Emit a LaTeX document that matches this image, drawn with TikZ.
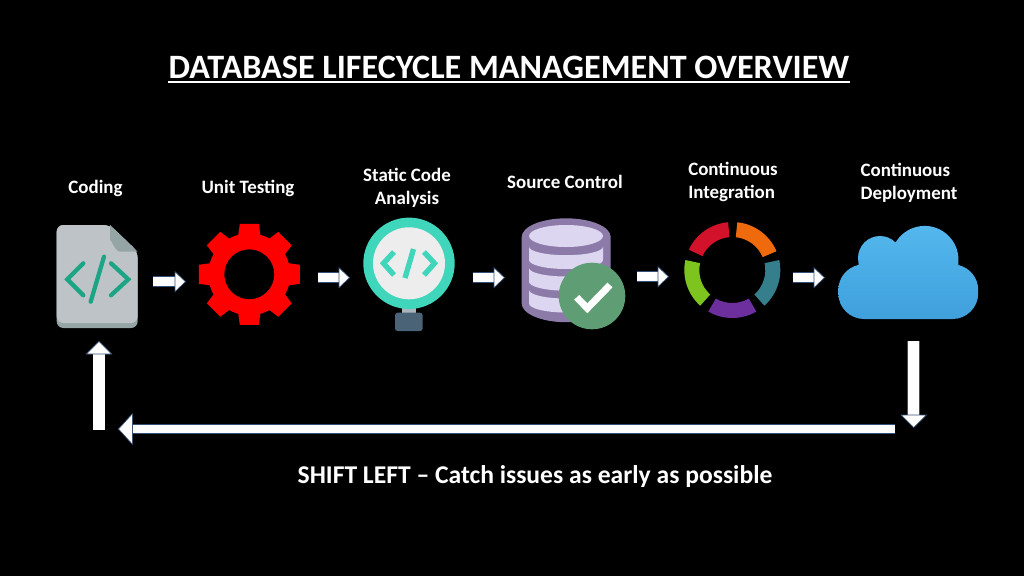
\documentclass[tikz,border=0pt]{standalone}
\usepackage{fontspec}
\setmainfont{Carlito}
\usetikzlibrary{arrows.meta,positioning,calc}
\definecolor{arrowedge}{HTML}{34507A}
\definecolor{docbody}{HTML}{BDC3C7}
\definecolor{docdark}{HTML}{95A5A6}
\definecolor{docgreen}{HTML}{1BA585}
\definecolor{lensteal}{HTML}{3FD6BC}
\definecolor{lensface}{HTML}{EDEDED}
\definecolor{lensneck}{HTML}{A9B4BC}
\definecolor{lensgrip}{HTML}{4A6376}
\definecolor{dbedge}{HTML}{8C7BA8}
\definecolor{dbface}{HTML}{DDD6F0}
\definecolor{dbcheck}{HTML}{5F9E74}
\definecolor{ringred}{HTML}{D2112B}
\definecolor{ringorange}{HTML}{EE6A0C}
\definecolor{ringteal}{HTML}{357F8C}
\definecolor{ringpurple}{HTML}{6D2E9E}
\definecolor{ringgreen}{HTML}{7DC41E}
\definecolor{cloudtop}{HTML}{55B8EE}
\definecolor{cloudbot}{HTML}{3FA0DC}
\tikzstyle{steplabel}=[text=white,font=\fontsize{14.2}{17.2}\selectfont\bfseries,inner sep=0pt]
\tikzstyle{smallflow}=[draw=arrowedge,line width=.5pt,double=white,double distance=7pt,
  -{Triangle[length=8.5pt,width=16pt,fill=white,line width=.5pt]}]
\tikzstyle{longflow}=[draw=arrowedge,line width=.5pt,double=white,double distance=8.5pt,
  -{Triangle[length=10pt,width=20pt,fill=white,line width=.5pt]}]
\tikzstyle{backflow}=[draw=arrowedge,line width=.5pt,double=white,double distance=6.5pt,
  -{Triangle[length=11pt,width=24pt,fill=white,line width=.5pt]}]
\tikzstyle{codeline}=[line width=3.2pt,line cap=round,line join=miter]
\tikzstyle{lensline}=[line width=4pt,line join=miter,lensteal]
\begin{document}
\begin{tikzpicture}[x=.75pt,y=-.75pt]
    \useasboundingbox (0,0) rectangle (1024,576);
    \fill[black] (0,0) rectangle (1024,576);
    % heading and step names
    \node [text=white,font=\fontsize{25.6}{30}\selectfont\bfseries,inner sep=0pt] (title) at (509,67)
      {DATABASE LIFECYCLE MANAGEMENT OVERVIEW};
    \draw[white,line width=1.5pt] ([yshift=-2.5pt]title.south west) -- ([yshift=-2.5pt]title.south east);
    \node [steplabel] (coding) at (95.5,188) {Coding};
    \node [steplabel] (unittest) at (248,188) {Unit Testing};
    \node [steplabel,align=center] (static) at (407,188) {Static Code\\Analysis};
    \node [steplabel] (source) at (565,182) {Source Control};
    \node [steplabel,align=left] (integration) at (733,182) {Continuous\\Integration};
    \node [steplabel,align=left] (deployment) at (909,183) {Continuous\\Deployment};
    \node [text=white,font=\fontsize{19.2}{22}\selectfont\bfseries,inner sep=0pt] (shift) at (535,477)
      {SHIFT LEFT – Catch issues as early as possible};
    % file icon
    \fill[docdark,rounded corners=5] (56.7,225) -- (110,225) -- (137.7,251.7) -- (137.7,328) -- (56.7,328) -- cycle;
    \fill[docbody,rounded corners=5] (56.7,225) -- (110,225) -- (137.7,251.7) -- (137.7,323) -- (56.7,323) -- cycle;
    \fill[docdark] (110,225) -- (137.7,251.7) -- (120,251.7) to[out=180,in=90] (110,241) -- cycle;
    \draw[codeline,docgreen] (83.3,263.3) -- (67.3,279.3) -- (83.3,295.3);
    \draw[codeline,docgreen] (104,256.7) -- (90.7,301.7);
    \draw[codeline,docgreen] (111,263.3) -- (128.3,279.3) -- (111,295.3);
    % gear icon
    \begin{scope}[shift={(249.3,274.3)}]
      \foreach \t in {0,45,...,315}
        \fill[red,rotate=\t] (-11.5,-36) -- (-9.5,-50.5) -- (9.5,-50.5) -- (11.5,-36) -- cycle;
      \fill[red,even odd rule] (0,0) circle (41) (0,0) circle (25);
    \end{scope}
    % lens icon
    \fill[lensneck] (402,305) rectangle (416,314);
    \fill[lensgrip,rounded corners=2] (395,312.7) rectangle (422.7,331);
    \fill[lensteal] (409,263.3) circle (45.7);
    \fill[lensface] (409,263.3) circle (36);
    \draw[lensline] (394,252) -- (383.5,263.3) -- (394,275);
    \draw[lensline] (413.5,249) -- (405,278);
    \draw[lensline] (424,252) -- (434.5,263.3) -- (424,275);
    % database icon
    \fill[dbedge] (521.7,237) arc[start angle=180,end angle=360,x radius=44.5,y radius=18.7]
      -- (610.7,303.5) arc[start angle=0,end angle=180,x radius=44.5,y radius=18.7] -- cycle;
    \fill[dbface] (566,236) ellipse [x radius=37,y radius=11];
    \foreach \top/\bot in {246.7/260,268/281.7,290/303.5}
      \fill[dbface] (529,\top) arc[start angle=180,end angle=0,x radius=37,y radius=8.5]
        -- (603,\bot) arc[start angle=0,end angle=180,x radius=37,y radius=9] -- cycle;
    \fill[dbcheck] (592,296) circle (33.3);
    \draw[white,line width=5.2pt] (576.7,297.3) -- (587.3,308.3) -- (610,285);
    % ring icon
    \begin{scope}[shift={(732.3,270)}]
      \foreach \c/\a/\b in {ringred/95/155,ringorange/84/23,ringteal/12/-48,ringpurple/-60/-120,ringgreen/228/168}
        \fill[\c] (-\a:48) arc[start angle=-\a,end angle=-\b,radius=48]
          -- (-\b:33) arc[start angle=-\b,end angle=-\a,radius=33] -- cycle;
    \end{scope}
    % cloud icon
    \shade[top color=cloudtop,bottom color=cloudbot] (864,319) arc[start angle=90,end angle=180,radius=25.7]
      -- (838.3,290) arc[start angle=180,end angle=258,radius=25.7]
      -- (858,258) arc[start angle=180,end angle=315,radius=22]
      -- (895.7,242.3) arc[start angle=211,end angle=363,radius=33.8]
      -- (958.3,265) arc[start angle=283,end angle=360,radius=25.7]
      -- (978.2,293.3) arc[start angle=0,end angle=90,radius=25.7] -- cycle;
    % arrow ends
    \coordinate (a1) at (153,281.7);   \coordinate (b1) at (186,281.7);
    \coordinate (a2) at (318,277.7);   \coordinate (b2) at (350,277.7);
    \coordinate (a3) at (472.7,277.7); \coordinate (b3) at (505,277.7);
    \coordinate (a4) at (637,276.7);   \coordinate (b4) at (669,276.7);
    \coordinate (a5) at (793,277.7);   \coordinate (b5) at (825,277.7);
    \coordinate (downtop) at (913.7,341);  \coordinate (downend) at (913.7,428);
    \coordinate (backstart) at (895,429);  \coordinate (backend) at (118,429);
    \coordinate (uptail) at (99,430);      \coordinate (uptip) at (99,341);
    \foreach \n in {1,...,5}
      \draw[smallflow] (a\n) -- (b\n);
    \draw[longflow] (downtop) -- (downend);
    \draw[backflow] (backstart) -- (backend);
    \draw[longflow] (uptail) -- (uptip);
\end{tikzpicture}
\end{document}
